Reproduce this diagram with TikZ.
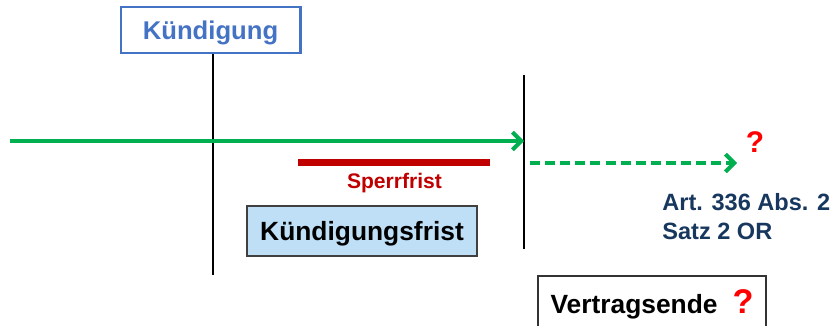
\documentclass[tikz,border=0pt]{standalone}
\usepackage{fontspec}
\setmainfont{Liberation Sans}
\usetikzlibrary{arrows.meta,positioning}

\definecolor{kblue}{RGB}{68,114,196}
\definecolor{tgreen}{RGB}{0,176,80}
\definecolor{sred}{RGB}{192,0,0}
\definecolor{qred}{RGB}{255,0,0}
\definecolor{navy}{RGB}{23,55,94}
\definecolor{frfill}{RGB}{190,223,245}

\begin{document}
\begin{tikzpicture}[x=0.2mm, y=-0.2mm, font=\bfseries,
	mark line/.style={line width=1.1pt, draw=black},
	timeline/.style={line width=2.3pt, draw=tgreen, -{Straight Barb[length=5pt,width=10pt,line width=2.3pt]}},
	outlook/.style={timeline, dash pattern=on 5.7pt off 2.9pt},
	notice box/.style={draw=kblue, line width=1.7pt, text=kblue, text depth=0pt,
		minimum width=35.8mm, minimum height=9.2mm, font=\bfseries\fontsize{14.6}{17}\selectfont},
	period box/.style={draw=black!75, line width=0.8pt, fill=frfill, text depth=0pt,
		minimum width=46mm, minimum height=10mm, font=\bfseries\fontsize{15}{18}\selectfont},
	end box/.style={draw=black!80, line width=0.8pt, inner ysep=0pt, text height=7.4mm, text depth=6mm,
		minimum width=45.6mm, font=\bfseries\fontsize{15}{18}\selectfont}]
	\useasboundingbox (0,0) rectangle (830,325);
	\clip (0,0) rectangle (830,325);
	
	%boxes
	\node (kuend) [notice box] at (210.5,30) {Kündigung};
	\node (frist) [period box] at (362,231) {Kündigungsfrist};
	\node (ende) [end box, anchor=base] at (652,313) {Vertragsende\hspace{3mm}\textcolor{qred}{\fontsize{19.5}{20}\selectfont ?}};
	
	%time marks
	\coordinate (k1) at (213,275);
	\coordinate (e1) at (524,75);
	\coordinate (e2) at (524,249);
	\draw[mark line] (kuend.south -| k1)--(k1);
	\draw[mark line] (e1)--(e2);
	
	%time line
	\coordinate (start) at (10,141);
	\draw[timeline] (start)--(start -| e1);
	
	%Sperrfrist
	\coordinate (sp1) at (298,162.5);
	\coordinate (sp2) at (490,162.5);
	\draw[line width=4pt, draw=sred] (sp1)--(sp2);
	\node (sperr) [anchor=base, text=sred, font=\bfseries\fontsize{12}{14}\selectfont] at (394.5,188) {Sperrfrist};
	
	%after the end
	\coordinate (d1) at (530,163);
	\coordinate (d2) at (737,163);
	\draw[outlook] (d1)--(d2);
	\node (frage) [anchor=base, text=qred, font=\bfseries\fontsize{17}{18}\selectfont] at (755,152) {?};
	\node (art) [anchor=north west, inner sep=0pt, align=left, text=navy,
		font=\bfseries\fontsize{13.4}{16.5}\selectfont] at (662,193) {Art. 336 Abs. 2\\Satz 2 OR};
\end{tikzpicture}
\end{document}
